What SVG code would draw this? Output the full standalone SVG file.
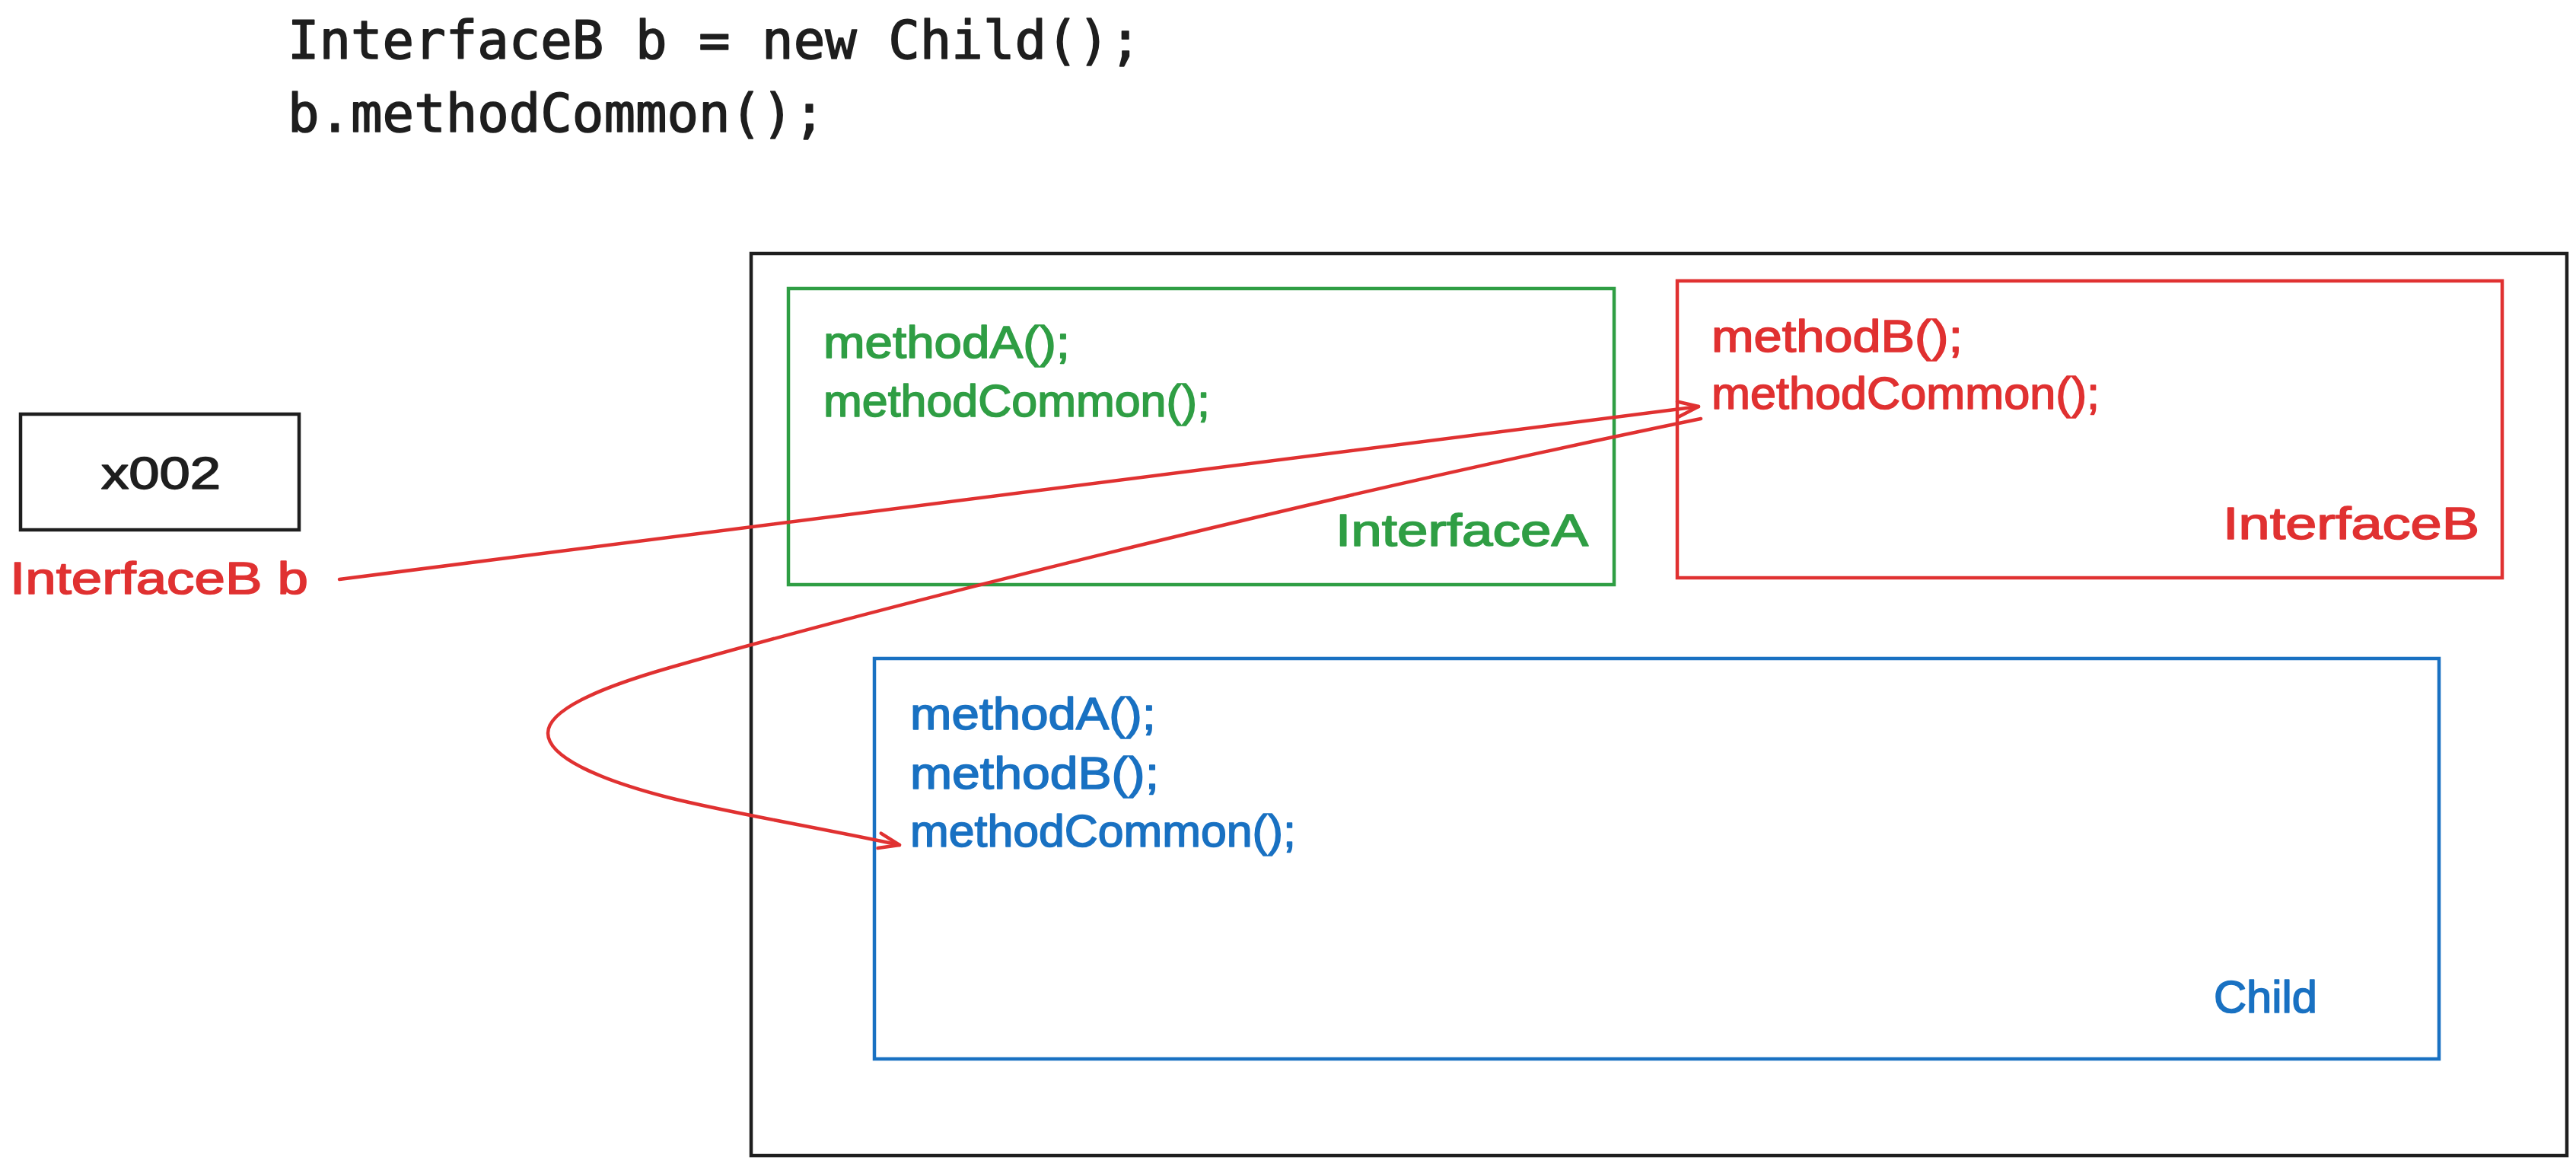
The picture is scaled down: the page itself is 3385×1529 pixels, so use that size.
<svg xmlns="http://www.w3.org/2000/svg" width="3385" height="1529" viewBox="0 0 3385 1529">
<style>
.box{fill:none;stroke-width:4.5}
.k{stroke:#1e1e1e}
.g{stroke:#2f9e44}
.r{stroke:#e03131}
.b{stroke:#1971c2}
.hand{font-family:"Liberation Sans","Noto Sans",sans-serif;font-size:60px;stroke-width:1.6;stroke-linejoin:round}
.code{font-family:"DejaVu Sans Mono","Liberation Mono",monospace;font-size:69px;fill:#1e1e1e;stroke:#1e1e1e;stroke-width:1.6;stroke-linejoin:round}
.tg{fill:#2f9e44;stroke:#2f9e44}
.tr{fill:#e03131;stroke:#e03131}
.tb{fill:#1971c2;stroke:#1971c2}
.tk{fill:#1e1e1e;stroke:#1e1e1e}
.conn{fill:none;stroke:#e03131;stroke-width:4.5;stroke-linecap:round;stroke-linejoin:round}
</style>
<defs>
<marker id="arrow" markerUnits="userSpaceOnUse" markerWidth="40" markerHeight="40" viewBox="-35 -20 40 40" refX="0" refY="0" orient="auto">
<path d="M-27,-10 L0,0 L-27,10" fill="none" stroke="#e03131" stroke-width="4.5" stroke-linecap="round" stroke-linejoin="round"/>
</marker>
</defs>
<rect width="3385" height="1529" fill="#ffffff"/>
<g id="code">
<text class="code" x="378" y="77">InterfaceB b = new Child();</text>
<text class="code" x="378" y="173">b.methodCommon();</text>
</g>
<g id="heap">
<rect class="box k" x="987" y="333" width="2386" height="1185"/>
</g>
<g id="interfaceA">
<rect class="box g" x="1036" y="379" width="1085" height="389"/>
<text class="hand tg" x="1082" y="470" textLength="324" lengthAdjust="spacingAndGlyphs">methodA();</text>
<text class="hand tg" x="1082" y="547" textLength="508" lengthAdjust="spacingAndGlyphs">methodCommon();</text>
<text class="hand tg" x="1755" y="717" textLength="332" lengthAdjust="spacingAndGlyphs">InterfaceA</text>
</g>
<g id="interfaceB">
<rect class="box r" x="2204" y="369" width="1084" height="390"/>
<text class="hand tr" x="2249" y="462" textLength="330" lengthAdjust="spacingAndGlyphs">methodB();</text>
<text class="hand tr" x="2249" y="537" textLength="510" lengthAdjust="spacingAndGlyphs">methodCommon();</text>
<text class="hand tr" x="2921" y="708" textLength="337" lengthAdjust="spacingAndGlyphs">InterfaceB</text>
</g>
<g id="child">
<rect class="box b" x="1149" y="865" width="2056" height="526"/>
<text class="hand tb" x="1196" y="958" textLength="323" lengthAdjust="spacingAndGlyphs">methodA();</text>
<text class="hand tb" x="1196" y="1036" textLength="327" lengthAdjust="spacingAndGlyphs">methodB();</text>
<text class="hand tb" x="1196" y="1112" textLength="507" lengthAdjust="spacingAndGlyphs">methodCommon();</text>
<text class="hand tb" x="2909" y="1330" textLength="136" lengthAdjust="spacingAndGlyphs">Child</text>
</g>
<g id="ref-x002">
<rect class="box k" x="27" y="544" width="366" height="152"/>
<text class="hand tk" x="133" y="642" font-size="62" textLength="157" lengthAdjust="spacingAndGlyphs">x002</text>
</g>
<g id="var-b">
<text class="hand tr" x="13" y="780" textLength="392" lengthAdjust="spacingAndGlyphs">InterfaceB b</text>
</g>
<g id="connectors">
<path class="conn" d="M446,761 L2232,534" marker-end="url(#arrow)"/>
<path class="conn" d="M2235,550 C1700,660 1150,800 880,877 C800,900 720,930 720,963 C720,995 790,1025 880,1048 C960,1068 1080,1088 1182,1110" marker-end="url(#arrow)"/>
</g>
</svg>
